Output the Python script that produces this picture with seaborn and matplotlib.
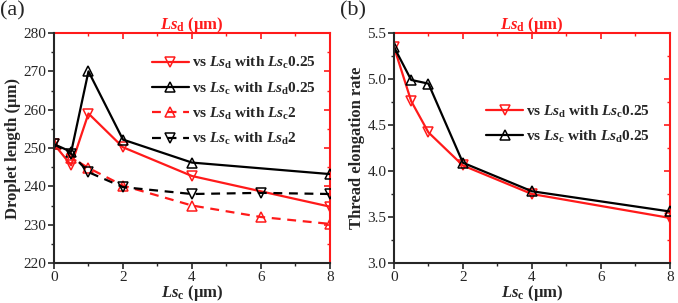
import matplotlib
matplotlib.use('Agg')
import matplotlib.pyplot as plt
import seaborn as sns
from matplotlib.ticker import MultipleLocator, FormatStrFormatter

sns.set_style('ticks')
plt.rcParams['font.family'] = ['Liberation Serif', 'DejaVu Serif']
plt.rcParams['mathtext.fontset'] = 'custom'
plt.rcParams['mathtext.it'] = 'Liberation Serif:italic:bold'
plt.rcParams['mathtext.bf'] = 'Liberation Serif:bold'
plt.rcParams['mathtext.rm'] = 'Liberation Serif:bold'

# (a) droplet length
x_a1 = [0, 0.5, 1, 2, 4, 8]
droplet_d025 = [251, 245.5, 259, 250.2, 242.7, 234.7]
droplet_c025 = [251, 249, 270, 252.2, 246.2, 243.2]
x_a2 = [0, 0.5, 1, 2, 4, 6, 8]
droplet_d2 = [251, 247.5, 244.8, 240.2, 235, 232, 230.2]
droplet_c2 = [251, 248.5, 243.7, 239.8, 238, 238.3, 238]

# (b) thread elongation rate
x_b = [0, 0.5, 1, 2, 4, 8]
thread_d025 = [5.35, 4.76, 4.42, 4.06, 3.75, 3.49]
thread_c025 = [5.35, 4.99, 4.95, 4.09, 3.78, 3.56]

lab_d025 = r'vs $Ls_{\rm d}$ with $Ls_{\rm c}$0.25'
lab_c025 = r'vs $Ls_{\rm c}$ with $Ls_{\rm d}$0.25'
lab_d2 = r'vs $Ls_{\rm d}$ with $Ls_{\rm c}$2'
lab_c2 = r'vs $Ls_{\rm c}$ with $Ls_{\rm d}$2'

RED = '#ff1a1a'

fig = plt.figure(figsize=(6.78, 3.03), dpi=100)
ax1 = fig.add_axes([0.0796, 0.132, 0.407, 0.759])
ax2 = fig.add_axes([0.581, 0.132, 0.407, 0.759])


def draw(ax, x, y, color, marker, ls, label):
    sns.lineplot(x=x, y=y, ax=ax, color=color, marker=marker, linestyle=ls,
                 markerfacecolor='none', markeredgecolor=color, markeredgewidth=1.1,
                 markersize=6.5, linewidth=1.6, label=label, sort=False)


draw(ax1, x_a1, droplet_d025, RED, 'v', '-', lab_d025)
draw(ax1, x_a1, droplet_c025, 'black', '^', '-', lab_c025)
draw(ax1, x_a2, droplet_d2, RED, '^', (0, (4, 3)), lab_d2)
draw(ax1, x_a2, droplet_c2, 'black', 'v', (0, (4, 3)), lab_c2)

draw(ax2, x_b, thread_d025, RED, 'v', '-', lab_d025)
draw(ax2, x_b, thread_c025, 'black', '^', '-', lab_c025)

panels = [(ax1, (220, 280), 10, 5, 'Droplet length (μm)', '(a)'),
          (ax2, (3.0, 5.5), 0.5, 0.25, 'Thread elongation rate', '(b)')]

for ax, ylim, ymaj, ymin, ylabel, tag in panels:
    ax.set_xlim(0, 8)
    ax.set_ylim(*ylim)
    ax.xaxis.set_major_locator(MultipleLocator(2))
    ax.xaxis.set_minor_locator(MultipleLocator(1))
    ax.yaxis.set_major_locator(MultipleLocator(ymaj))
    ax.yaxis.set_minor_locator(MultipleLocator(ymin))
    if ymaj < 1:
        ax.yaxis.set_major_formatter(FormatStrFormatter('%.1f'))
    ax.tick_params(which='major', direction='out', length=4, width=1.2, labelsize=11, pad=1.5)
    ax.tick_params(which='minor', direction='out', length=2.5, width=1.0)
    for s in ['left', 'bottom']:
        ax.spines[s].set_linewidth(1.5)
    ax.spines['top'].set_visible(False)
    ax.spines['right'].set_visible(False)
    ax.set_xlabel(r'$Ls_{\rm c}$ (μm)', fontsize=12, fontweight='bold', labelpad=-0.3)
    ax.set_ylabel(ylabel, fontsize=12, fontweight='bold', labelpad=2)

    top = ax.secondary_xaxis('top')
    top.xaxis.set_major_locator(MultipleLocator(2))
    top.xaxis.set_minor_locator(MultipleLocator(1))
    top.tick_params(which='both', direction='in', colors=RED, labeltop=False)
    top.tick_params(which='major', length=4, width=1.2)
    top.tick_params(which='minor', length=2.5, width=1.0)
    top.spines['top'].set_color(RED)
    top.spines['top'].set_linewidth(1.5)
    top.set_xlabel(r'$Ls_{\rm d}$ (μm)', color=RED, fontsize=12, fontweight='bold', labelpad=3)

    right = ax.secondary_yaxis('right')
    right.yaxis.set_major_locator(MultipleLocator(ymaj))
    right.yaxis.set_minor_locator(MultipleLocator(ymin))
    right.tick_params(which='both', direction='in', colors=RED, labelright=False)
    right.tick_params(which='major', length=4, width=1.2)
    right.tick_params(which='minor', length=2.5, width=1.0)
    right.spines['right'].set_color(RED)
    right.spines['right'].set_linewidth(1.5)

    pos = ax.get_position()
    fig.text(pos.x0 - 0.08, 0.995, tag, fontsize=16, va='top', ha='left')

legend_font = {'weight': 'bold', 'size': 11}
ax1.legend(loc='upper right', bbox_to_anchor=(0.97, 0.93), frameon=False, prop=legend_font,
           handlelength=2.4, handletextpad=0.2, labelspacing=0.6, borderaxespad=0)
ax2.legend(loc='upper right', bbox_to_anchor=(0.95, 0.72), frameon=False, prop=legend_font,
           handlelength=2.4, handletextpad=0.2, labelspacing=0.6, borderaxespad=0)

fig.savefig('out.png', dpi=100)
